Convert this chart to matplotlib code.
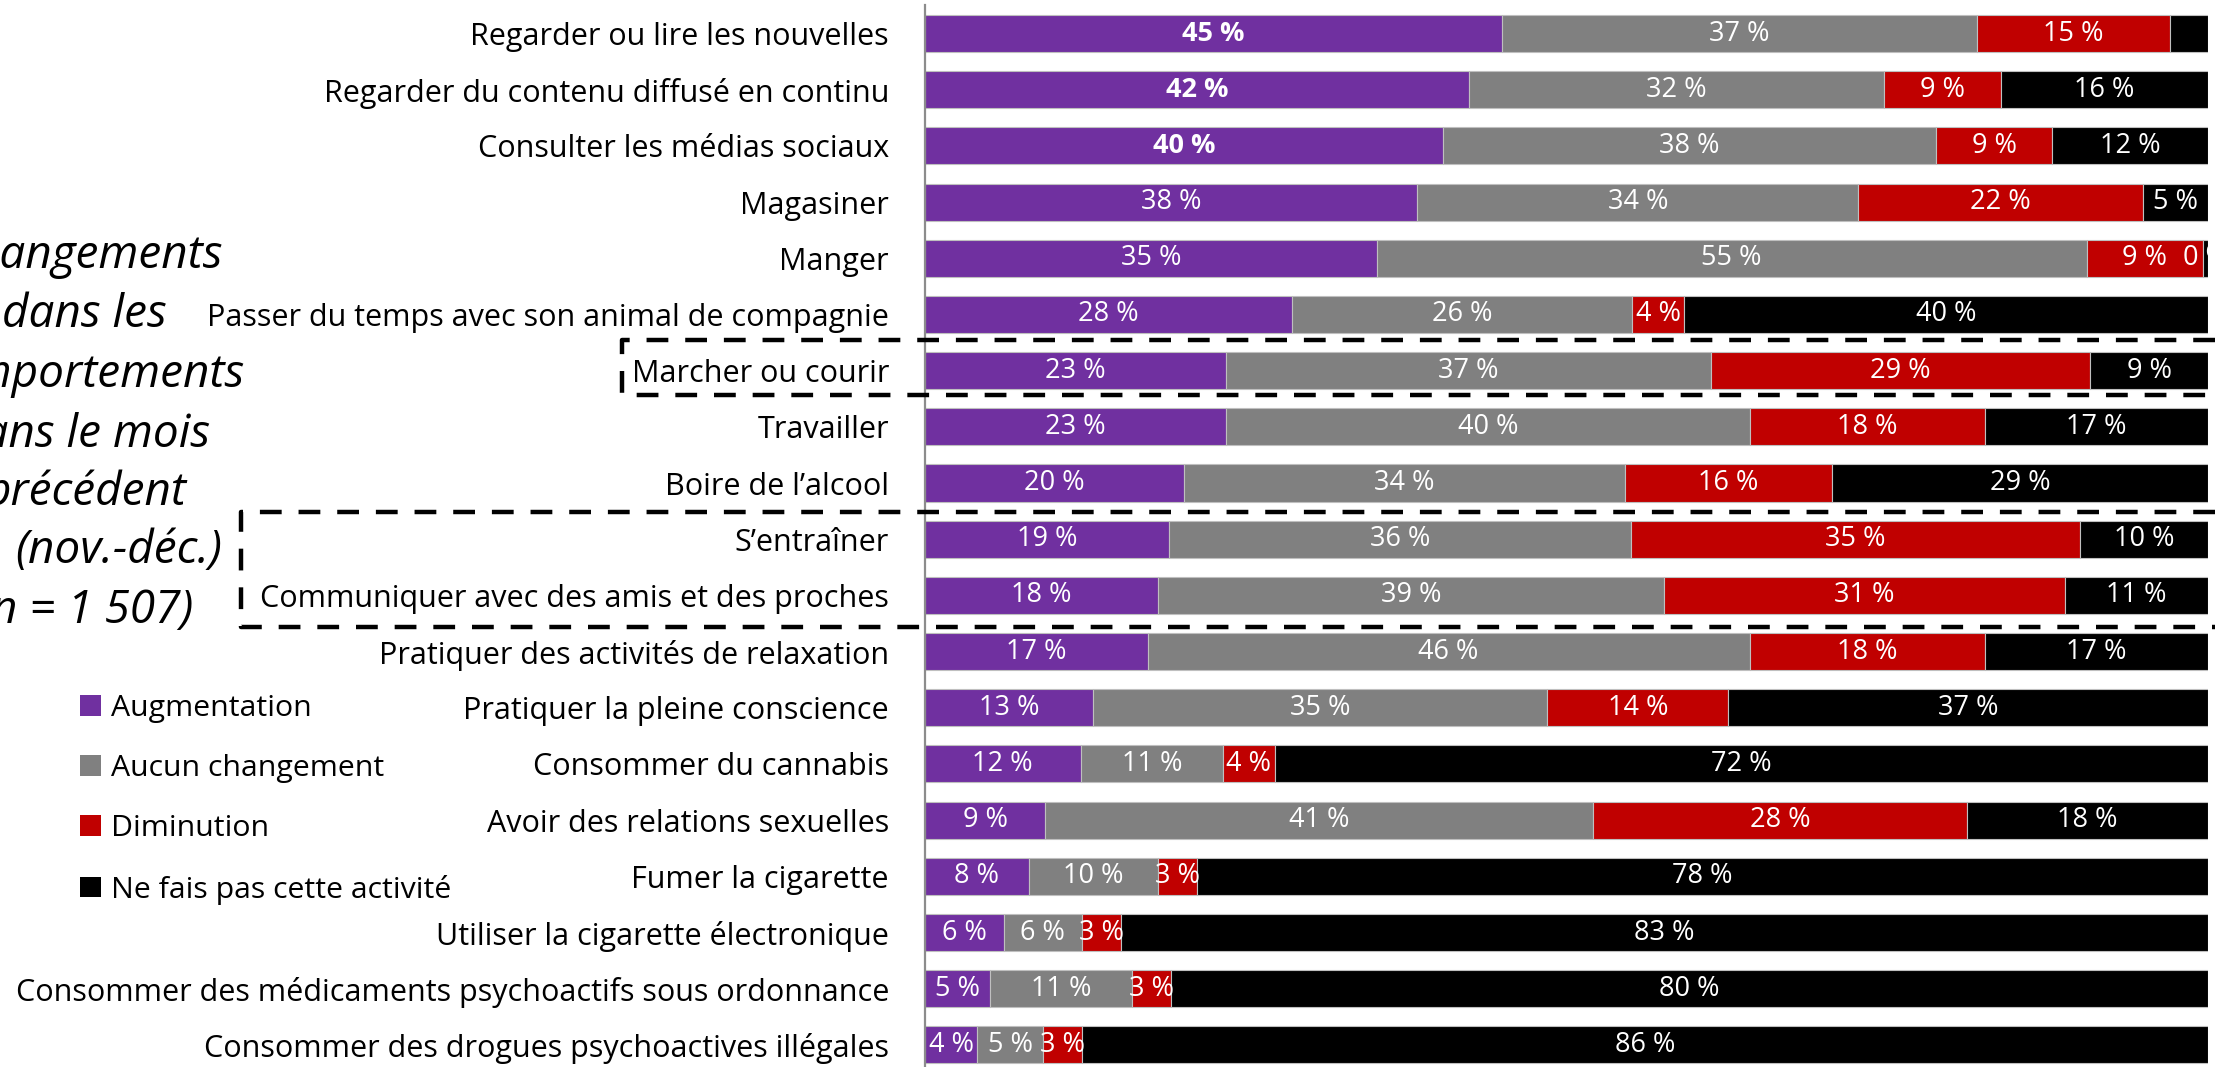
import matplotlib
matplotlib.use("Agg")
import matplotlib.pyplot as plt
from matplotlib.lines import Line2D
from matplotlib.patches import Patch
from matplotlib.transforms import blended_transform_factory
import numpy as np

plt.rcParams['font.family'] = ['Open Sans', 'DejaVu Sans']

categories = [
    "Regarder ou lire les nouvelles",
    "Regarder du contenu diffusé en continu",
    "Consulter les médias sociaux",
    "Magasiner",
    "Manger",
    "Passer du temps avec son animal de compagnie",
    "Marcher ou courir",
    "Travailler",
    "Boire de l’alcool",
    "S’entraîner",
    "Communiquer avec des amis et des proches",
    "Pratiquer des activités de relaxation",
    "Pratiquer la pleine conscience",
    "Consommer du cannabis",
    "Avoir des relations sexuelles",
    "Fumer la cigarette",
    "Utiliser la cigarette électronique",
    "Consommer des médicaments psychoactifs sous ordonnance",
    "Consommer des drogues psychoactives illégales",
]
augmentation = [45, 42, 40, 38, 35, 28, 23, 23, 20, 19, 18, 17, 13, 12, 9, 8, 6, 5, 4]
aucun = [37, 32, 38, 34, 55, 26, 37, 40, 34, 36, 39, 46, 35, 11, 41, 10, 6, 11, 5]
diminution = [15, 9, 9, 22, 9, 4, 29, 18, 16, 35, 31, 18, 14, 4, 28, 3, 3, 3, 3]
ne_fais_pas = [3, 16, 12, 5, 0.4, 40, 9, 17, 29, 10, 11, 17, 37, 72, 18, 78, 83, 80, 86]

series_names = ["Augmentation", "Aucun changement", "Diminution", "Ne fais pas cette activité"]
colors = ["#7030A0", "#808080", "#C00000", "#000000"]
bold_labels = {(0, 0), (1, 0), (2, 0)}   # (row, series)
hidden_labels = {(0, 3)}

title_lines = ["Changements", "dans les", "comportements", "dans le mois",
               "précédent", "(nov.-déc.)", "(n = 1 507)"]

W, H = 2215, 1067
fig = plt.figure(figsize=(W / 100, H / 100), dpi=100)
ax = fig.add_axes([925 / W, -0.0056, (2208 - 925) / W, 1.0005])

data = np.array([augmentation, aucun, diminution, ne_fais_pas], dtype=float)
totals = data.sum(axis=0)
shares = data / totals * 100
y = np.arange(len(categories))
left = np.zeros(len(categories))
for s in range(4):
    ax.barh(y, shares[s], left=left, height=0.66, color=colors[s],
            edgecolor="#bfbfbf", linewidth=0.8, label=series_names[s], zorder=2)
    for i in range(len(categories)):
        if (i, s) in hidden_labels:
            continue
        ax.text(left[i] + shares[s][i] / 2, y[i], f"{data[s][i]:.0f}\u00a0%",
                ha="center", va="center", color="white", fontsize=19.5,
                fontweight="bold" if (i, s) in bold_labels else "normal",
                clip_on=True, zorder=3)
    left += shares[s]

ax.set_xlim(0, 100)
ax.set_ylim(len(categories) - 0.5, -0.5)
ax.set_yticks(y)
ax.set_yticklabels(categories, fontsize=22)
ax.tick_params(axis="y", length=0, pad=26)
ax.set_xticks([])
for sp in ["top", "right", "bottom"]:
    ax.spines[sp].set_visible(False)
ax.spines["left"].set_color("#8c8c8c")
ax.spines["left"].set_linewidth(1.6)

# Title on the left
baselines = [268, 327, 387, 447, 505, 563, 623]
rights = [223, 167, 245, 210, 187, 222, 193]
for txt, b, r in zip(title_lines, baselines, rights):
    fig.text(r / W, 1 - b / H, txt, ha="right", va="baseline",
             fontsize=33, style="italic")

# Dashed frames
tr = blended_transform_factory(fig.transFigure, ax.transData)
dash = (0, (4.9, 3.8))
box1_x = [1.0, 622 / W, 622 / W, 1.0]
box1_y = [5.45, 5.45, 6.43, 6.43]
box2_x = [1.0, 241 / W, 241 / W, 1.0]
box2_y = [8.51, 8.51, 10.56, 10.56]
for bx, by in [(box1_x, box1_y), (box2_x, box2_y)]:
    fig.add_artist(Line2D(bx, by, transform=tr, color="black", lw=3.2,
                          linestyle=dash, dash_capstyle="butt", zorder=10,
                          clip_on=False))

# Legend
handles = [Patch(facecolor=c) for c in colors]
fig.legend(handles, series_names, loc="upper left",
           bbox_to_anchor=(80 / W, 1 - 694 / H), frameon=False, fontsize=21.8,
           handlelength=0.68, handleheight=0.68, handletextpad=0.35,
           labelspacing=1.03, borderpad=0, borderaxespad=0)

fig.savefig("out.png", dpi=100)
